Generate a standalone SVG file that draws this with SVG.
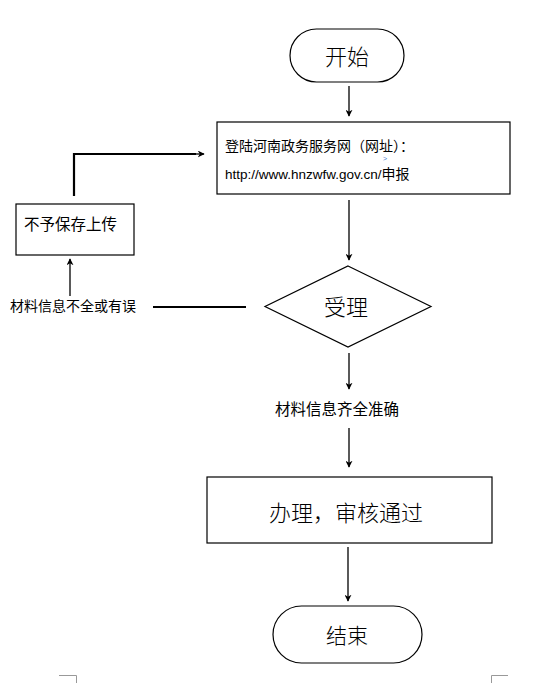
<svg xmlns="http://www.w3.org/2000/svg" width="555" height="683" viewBox="0 0 555 683">
<style>
.box{fill:#fff;stroke:#000;stroke-width:1.2}
.ln{fill:none;stroke:#000;stroke-width:1.3}
.thick{fill:none;stroke:#000;stroke-width:2.2}
.t{font-family:"Noto Sans CJK SC","Noto Sans",sans-serif;fill:#000}
.big{font-size:22px;text-anchor:middle;dominant-baseline:central;font-weight:300}
.sm{font-size:14px}
.md{font-size:15.5px}
.mark{fill:none;stroke:#999;stroke-width:1}
</style>
<defs>
<marker id="ah" viewBox="0 0 10 10" refX="9" refY="5" markerWidth="7" markerHeight="7" markerUnits="userSpaceOnUse" orient="auto">
<path d="M0,0 L10,5 L0,10 L3,5 Z" fill="#000"/>
</marker>
</defs>
<rect width="555" height="683" fill="#fff"/>
<g id="connectors">
<line class="ln" x1="349" y1="86" x2="349" y2="116" marker-end="url(#ah)"/>
<line class="ln" x1="349" y1="200" x2="349" y2="260" marker-end="url(#ah)"/>
<line class="thick" x1="153" y1="307" x2="246" y2="307"/>
<line class="ln" x1="70" y1="296" x2="70" y2="259" marker-end="url(#ah)"/>
<polyline class="thick" points="74,196 74,154 196,154"/>
<line class="ln" x1="196" y1="154" x2="204" y2="154" marker-end="url(#ah)"/>
<line class="ln" x1="349" y1="353" x2="349" y2="389" marker-end="url(#ah)"/>
<line class="ln" x1="349" y1="428" x2="349" y2="467" marker-end="url(#ah)"/>
<line class="ln" x1="348" y1="547" x2="348" y2="601" marker-end="url(#ah)"/>
</g>
<g id="start">
<rect class="box" x="290" y="29" width="114" height="53" rx="26.5"/>
<text class="t big" x="347" y="55">开始</text>
</g>
<g id="website">
<rect class="box" x="217" y="122" width="293" height="72"/>
<text class="t sm" x="225" y="151">登陆河南政务服务网（网址）：</text>
<text x="383" y="161" font-family="Liberation Sans,sans-serif" font-size="7" fill="#4a7fd0">&gt;</text>
<text class="t sm" x="225" y="179"><tspan font-family="Liberation Sans,Arial,sans-serif" font-size="13.5px">http://www.hnzwfw.gov.cn/</tspan>申报</text>
</g>
<g id="accept">
<polygon class="box" points="348,266 431,306.5 348,347 265,306.5"/>
<text class="t big" x="346" y="305">受理</text>
</g>
<g id="reject-label">
<text class="t sm" x="10" y="311">材料信息不全或有误</text>
</g>
<g id="no-save">
<rect class="box" x="16" y="204" width="118" height="51"/>
<text class="t md" x="24" y="230">不予保存上传</text>
</g>
<g id="ok-label">
<text class="t md" x="337" y="415" text-anchor="middle">材料信息齐全准确</text>
</g>
<g id="process">
<rect class="box" x="207" y="477" width="285" height="66"/>
<text class="t big" x="346" y="511">办理，审核通过</text>
</g>
<g id="end">
<rect class="box" x="273" y="606" width="149" height="57" rx="28.5"/>
<text class="t big" x="347" y="634" style="font-size:21px">结束</text>
</g>
<g id="page-marks">
<polyline class="mark" points="59,675.5 76.5,675.5 76.5,683"/>
<polyline class="mark" points="508,675.5 491.5,675.5 491.5,683"/>
</g>
</svg>
